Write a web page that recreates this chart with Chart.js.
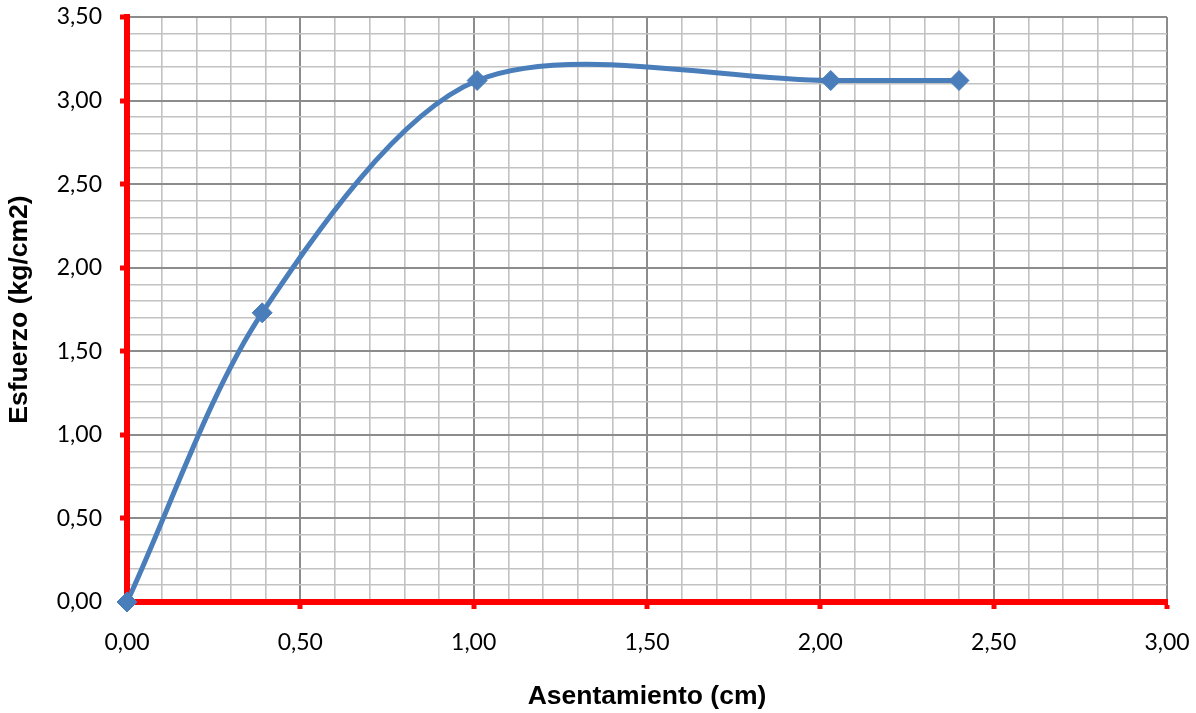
<!DOCTYPE html>
<html>
<head>
<meta charset="utf-8">
<script src="https://cdn.jsdelivr.net/npm/chart.js@4/dist/chart.umd.min.js"></script>
<style>
  html, body { margin: 0; padding: 0; background: #ffffff; }
  #wrap { width: 1196px; height: 713px; position: relative; }
</style>
</head>
<body>
<div id="wrap"><canvas id="chart"></canvas></div>
<script>
// Curva esfuerzo - asentamiento
const asentamiento = [0.00, 0.39, 1.01, 2.03, 2.40];   // cm
const esfuerzo     = [0.00, 1.73, 3.12, 3.12, 3.12];   // kg/cm2

const xTickLabels = ['0,00', '0,50', '1,00', '1,50', '2,00', '2,50', '3,00'];
const yTickLabels = ['0,00', '0,50', '1,00', '1,50', '2,00', '2,50', '3,00', '3,50'];

const xTitle = 'Asentamiento (cm)';
const yTitle = 'Esfuerzo (kg/cm2)';

const serieColor = '#4a7ebb';
const axisRed = '#ff0000';
const majorGrid = '#8c8c8c';
const minorGrid = '#c2c2c2';

// tenths index of a tick value; every fifth tenth is a labelled major tick
const tenth = v => Math.round(v * 10);
const isMajor = v => tenth(v) % 5 === 0;
const majorLabel = (labels, v) => isMajor(v) ? labels[tenth(v) / 5] : '';

const tickFont = { family: 'Lato, "Open Sans", sans-serif', size: 23 };
const titleFont = { family: '"Liberation Sans", Arial, sans-serif', size: 26.5, weight: 'bold' };

const gridOpts = {
  color: c => (c.tick && isMajor(c.tick.value)) ? majorGrid : minorGrid,
  lineWidth: c => (c.tick && isMajor(c.tick.value)) ? 2 : 1.6,
  tickColor: c => (c.tick && isMajor(c.tick.value)) ? axisRed : 'rgba(0,0,0,0)',
  tickLength: 7,
  tickWidth: 5
};

// keep the plot area fixed: labels may overflow into the page margins
const noEdgePadding = s => {
  s.paddingLeft = 0; s.paddingRight = 0; s.paddingTop = 0; s.paddingBottom = 0;
};

new Chart(document.getElementById('chart'), {
  type: 'scatter',
  data: {
    datasets: [{
      data: asentamiento.map((x, i) => ({ x: x, y: esfuerzo[i] })),
      showLine: true,
      borderColor: serieColor,
      backgroundColor: serieColor,
      borderWidth: 5,
      tension: 0.3,
      pointStyle: 'rectRot',
      pointRadius: 10,
      pointBorderWidth: 1,
      pointBorderColor: serieColor,
      pointBackgroundColor: serieColor,
      clip: false
    }]
  },
  options: {
    responsive: true,
    maintainAspectRatio: false,
    animation: false,
    layout: { padding: { left: 0, right: 29, top: 17, bottom: 0 } },
    plugins: { legend: { display: false }, tooltip: { enabled: false } },
    scales: {
      x: {
        type: 'linear',
        min: 0,
        max: 3,
        ticks: {
          stepSize: 0.1,
          autoSkip: false,
          maxRotation: 0,
          padding: 20,
          color: '#000000',
          font: tickFont,
          callback: v => majorLabel(xTickLabels, v)
        },
        grid: gridOpts,
        border: { color: axisRed, width: 6 },
        title: {
          display: true,
          text: xTitle,
          color: '#000000',
          font: titleFont,
          padding: { top: 0, bottom: 0 }
        },
        afterFit: s => { s.height = 111; noEdgePadding(s); }
      },
      y: {
        type: 'linear',
        min: 0,
        max: 3.5,
        ticks: {
          stepSize: 0.1,
          autoSkip: false,
          padding: 18,
          color: '#000000',
          font: tickFont,
          callback: v => majorLabel(yTickLabels, v)
        },
        grid: gridOpts,
        border: { color: axisRed, width: 6 },
        title: {
          display: true,
          text: yTitle,
          color: '#000000',
          font: titleFont,
          padding: { top: 4, bottom: 0 }
        },
        afterFit: s => { s.width = 127; noEdgePadding(s); }
      }
    }
  }
});
</script>
</body>
</html>
